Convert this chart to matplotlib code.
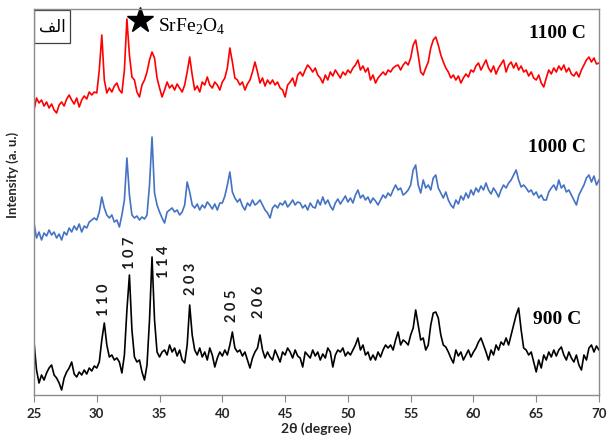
import numpy as np
import matplotlib
matplotlib.use("Agg")
import matplotlib.pyplot as plt
from matplotlib.patches import Rectangle

plt.rcParams["mathtext.fontset"] = "custom"
plt.rcParams["mathtext.rm"] = "Liberation Serif"

# 2-theta sampling (degrees), 0.2 deg steps from 25 to 70
two_theta = np.round(np.arange(25.0, 70.001, 0.2), 1)

# intensities (arbitrary units, stacked)
i_900 = [
    53, 25, 12, 20, 15, 22, 27, 30, 20, 17,
    12, 5, 17, 23, 27, 33, 21, 18, 23, 20,
    25, 21, 27, 24, 29, 27, 33, 55, 72, 50,
    38, 40, 35, 37, 33, 22, 40, 85, 120, 65,
    38, 33, 35, 23, 15, 30, 75, 138, 75, 43,
    38, 43, 45, 40, 50, 43, 47, 39, 45, 35,
    32, 50, 90, 60, 45, 40, 47, 38, 43, 35,
    47, 40, 28, 37, 43, 39, 45, 40, 50, 63,
    47, 43, 45, 39, 43, 35, 27, 37, 43, 47,
    60, 45, 37, 43, 38, 35, 45, 39, 33, 43,
    40, 47, 43, 37, 45, 39, 37, 28, 43, 40,
    37, 45, 39, 43, 35, 41, 37, 47, 43, 28,
    40, 45, 43, 47, 39, 43, 40, 45, 50, 57,
    45, 50, 40, 43, 35, 40, 35, 43, 38, 45,
    50, 47, 50, 45, 55, 63, 50, 55, 53, 50,
    60, 67, 85, 70, 55, 57, 45, 50, 70, 82,
    83, 77, 60, 50, 48, 43, 37, 32, 45, 39,
    43, 35, 40, 45, 38, 43, 47, 53, 57, 50,
    43, 35, 45, 40, 50, 45, 53, 50, 57, 50,
    60, 70, 80, 87, 65, 47, 45, 40, 43, 33,
    23, 35, 27, 40, 35, 43, 38, 45, 39, 45,
    48, 40, 35, 43, 37, 33, 40, 30, 25, 40,
    35, 47, 50, 43, 49, 45,
]

i_1000 = [
    172, 157, 163, 155, 162, 159, 165, 160, 163, 157,
    161, 155, 163, 160, 167, 163, 169, 165, 171, 163,
    169, 167, 173, 175, 177, 175, 183, 198, 187, 180,
    177, 180, 173, 175, 168, 180, 195, 237, 200, 180,
    177, 179, 175, 178, 176, 180, 210, 258, 202, 190,
    183, 177, 172, 183, 185, 187, 183, 185, 180, 183,
    190, 213, 203, 190, 187, 191, 185, 190, 187, 193,
    190, 186, 191, 185, 192, 192, 199, 210, 223, 203,
    197, 193, 196, 189, 185, 192, 189, 195, 190, 192,
    195, 190, 185, 182, 177, 187, 190, 187, 192, 190,
    194, 188, 191, 195, 190, 193, 192, 187, 190, 185,
    192, 188, 187, 195, 190, 198, 191, 195, 189, 185,
    192, 196, 191, 195, 199, 193, 197, 192, 200, 205,
    197, 200, 195, 198, 192, 197, 194, 190, 195, 200,
    197, 202, 199, 205, 210, 205, 207, 200, 202, 205,
    210, 225, 230, 210, 202, 215, 207, 210, 205, 217,
    220, 207, 202, 197, 203, 195, 190, 187, 195, 191,
    199, 195, 202, 197, 205, 200, 207, 203, 209, 205,
    212, 205, 201, 207, 203, 198, 205, 210, 207, 212,
    215, 220, 225, 215, 208, 210, 207, 203, 205, 200,
    203, 197, 200, 195, 195, 203, 207, 210, 205, 215,
    207, 210, 203, 205, 200, 195, 190, 200, 205, 210,
    217, 220, 213, 219, 210, 215,
]

i_1100 = [
    285, 297, 292, 295, 289, 293, 287, 291, 285, 282,
    290, 293, 289, 296, 300, 295, 291, 297, 288, 295,
    299, 296, 303, 300, 303, 302, 325, 360, 315, 302,
    307, 303, 309, 312, 305, 302, 325, 376, 340, 318,
    315, 303, 298, 310, 315, 323, 335, 343, 337, 317,
    307, 298, 305, 313, 307, 310, 305, 311, 307, 303,
    310, 323, 338, 320, 305, 309, 303, 313, 310, 318,
    310, 307, 313, 310, 305, 313, 317, 327, 347, 333,
    317, 315, 310, 313, 305, 311, 315, 323, 333, 323,
    312, 317, 309, 315, 311, 315, 310, 313, 307, 305,
    298, 310, 313, 317, 309, 320, 323, 319, 325, 330,
    327, 323, 327, 320, 317, 312, 320, 315, 323, 319,
    325, 321, 317, 323, 320, 325, 322, 327, 330, 335,
    325, 329, 323, 327, 315, 320, 312, 317, 320, 323,
    320, 325, 323, 327, 329, 330, 325, 330, 333, 330,
    337, 350, 355, 340, 323, 320, 327, 333, 347, 355,
    358, 350, 340, 333, 327, 323, 317, 320, 315, 319,
    312, 317, 321, 318, 325, 323, 329, 332, 325, 330,
    335, 327, 323, 329, 321, 327, 331, 335, 323, 330,
    333, 327, 332, 325, 329, 323, 325, 319, 323, 317,
    315, 320, 312, 308, 317, 325, 321, 327, 323, 329,
    325, 330, 323, 327, 321, 319, 323, 318, 325, 330,
    335, 338, 333, 337, 331, 332,
]

# hkl labels of the 900 C pattern
hkl_labels = ["1 1 0", "1 0 7", "1 1 4", "2 0 3", "2 0 5", "2 0 6"]
hkl_x = [30.56, 32.63, 35.33, 37.48, 40.74, 42.89]
hkl_y = [95, 142, 133, 116, 89, 93]

temp_labels = ["1100 C", "1000 C", "900 C"]
temp_y = [362, 247, 75]

fig = plt.figure(figsize=(6.08, 4.42), dpi=100)
ax = fig.add_axes([34 / 608, 47 / 442, 565 / 608, 386 / 442])

ax.plot(two_theta, i_900, color="black", lw=1.2)
ax.plot(two_theta, i_1000, color="#4472C4", lw=1.2)
ax.plot(two_theta, i_1100, color="#FF0000", lw=1.2)

ax.set_xlim(25, 70)
ax.set_ylim(0, 386)
ax.set_xticks(range(25, 71, 5))
ax.set_yticks([])
for lab in ax.get_xticklabels():
    lab.set_fontfamily("Lato")
    lab.set_fontweight("bold")
    lab.set_fontsize(9.5)
    lab.set_color("#262626")
ax.tick_params(axis="x", direction="out", length=5, color="#888888", pad=4)
for sp in ax.spines.values():
    sp.set_color("#8c8c8c")
    sp.set_linewidth(1.0)

ax.set_xlabel("2θ (degree)", fontfamily="Lato", fontweight="bold",
              fontsize=10, color="#262626", labelpad=2)
ax.set_ylabel("Intensity (a. u.)", fontfamily="Lato", fontweight="bold",
              fontsize=9.5, color="#262626")
ax.yaxis.set_label_coords(-0.027, 0.57)

for t, x, y in zip(hkl_labels, hkl_x, hkl_y):
    ax.text(x, y, t, rotation=90, ha="center", va="center",
            fontfamily="Lato", fontweight="bold", fontsize=10.5,
            color="#1a1a1a")

for t, y in zip(temp_labels, temp_y):
    ax.text(66.65, y, t, ha="center", va="center",
            fontfamily="Liberation Serif", fontweight="bold", fontsize=14)

# phase marker
ax.plot([33.43], [375], marker="*", color="black", markersize=19, clip_on=False)
ax.text(34.85, 368, "SrFe$_2$O$_4$", fontfamily="Liberation Serif",
        fontsize=14, ha="left", va="center")

# panel tag box (Arabic "alef")
ax.add_patch(Rectangle((0, 0.912), 0.064, 0.086, transform=ax.transAxes,
                       fill=False, edgecolor="#404040", lw=0.9))
ax.text(0.032, 0.955, "\uFED2\uFEDF\uFE8D", transform=ax.transAxes,
        ha="center", va="center", fontfamily="DejaVu Sans", fontsize=12)

fig.savefig("out.png", dpi=100)
